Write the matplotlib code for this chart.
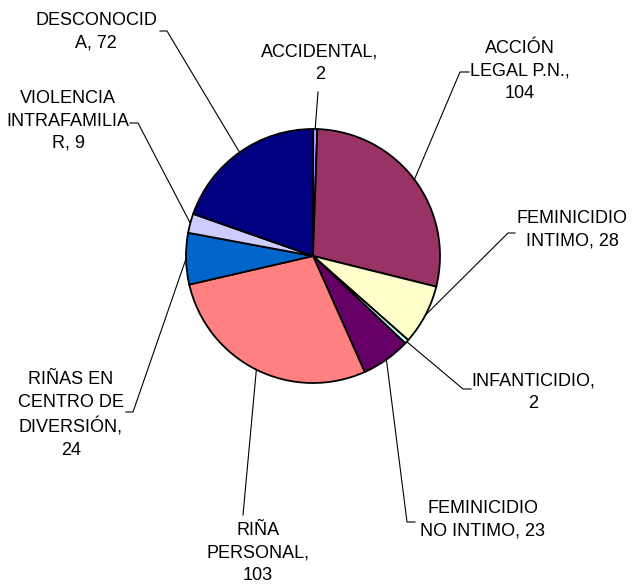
import matplotlib
matplotlib.use('agg')
from matplotlib import pyplot as plt
import numpy as np

# data, clockwise from the top
labels = ['ACCIDENTAL,\n2', 'ACCIÓN\nLEGAL P.N.,\n104', 'FEMINICIDIO\nINTIMO, 28',
          'INFANTICIDIO,\n2', 'FEMINICIDIO\nNO INTIMO, 23', 'RIÑA\nPERSONAL,\n103',
          'RIÑAS EN\nCENTRO DE\nDIVERSIÓN,\n24', 'VIOLENCIA\nINTRAFAMILIA\nR, 9',
          'DESCONOCID\nA, 72']
values = [2, 104, 28, 2, 23, 103, 24, 9, 72]
colors = ['#9999FF', '#993366', '#FFFFCC', '#CCFFFF', '#660066',
          '#FF8080', '#0066CC', '#CCCCFF', '#000080']

W, H = 633, 585
CX, CY, R = 313, 256, 127

# label layout in pixels from top-left: text centre, elbow, tick end (None = no tick)
layout = [
    ((320, 63), (318, 92), None),
    ((520, 71), (460, 72), (469, 72)),
    ((572, 230), (508, 233), (515, 233)),
    ((533, 392), (463, 389), (471, 389)),
    ((483, 520), (407, 522), (415, 522)),
    ((258, 553), (243, 515), None),
    ((71, 415), (133, 412), (126, 412)),
    ((68, 121), (138, 123), (130, 123)),
    ((96, 32), (167, 31), (160, 31)),
]


def px(p):
    return p[0], H - p[1]


plt.rcParams['font.family'] = ['Liberation Sans', 'DejaVu Sans']

fig = plt.figure(figsize=(W / 100, H / 100), dpi=100)
ax = fig.add_axes([0, 0, 1, 1])

wedges, _ = ax.pie(values, colors=colors, startangle=90, counterclock=False,
                   radius=R, center=px((CX, CY)),
                   wedgeprops=dict(edgecolor='black', linewidth=1.3))

for w, lab, (tpos, elbow, tick) in zip(wedges, labels, layout):
    mid = np.deg2rad((w.theta1 + w.theta2) / 2)
    x0, y0 = px((CX, CY))
    pts = [(x0 + R * np.cos(mid), y0 + R * np.sin(mid)), px(elbow)]
    if tick is not None:
        pts.append(px(tick))
    xs, ys = zip(*pts)
    ax.plot(xs, ys, color='black', lw=0.8)
    ax.text(*px(tpos), lab, ha='center', va='center', fontsize=13,
            linespacing=1.42, multialignment='center')

ax.set_xlim(0, W)
ax.set_ylim(0, H)
ax.set_axis_off()

plt.savefig('out.png', dpi=100)
